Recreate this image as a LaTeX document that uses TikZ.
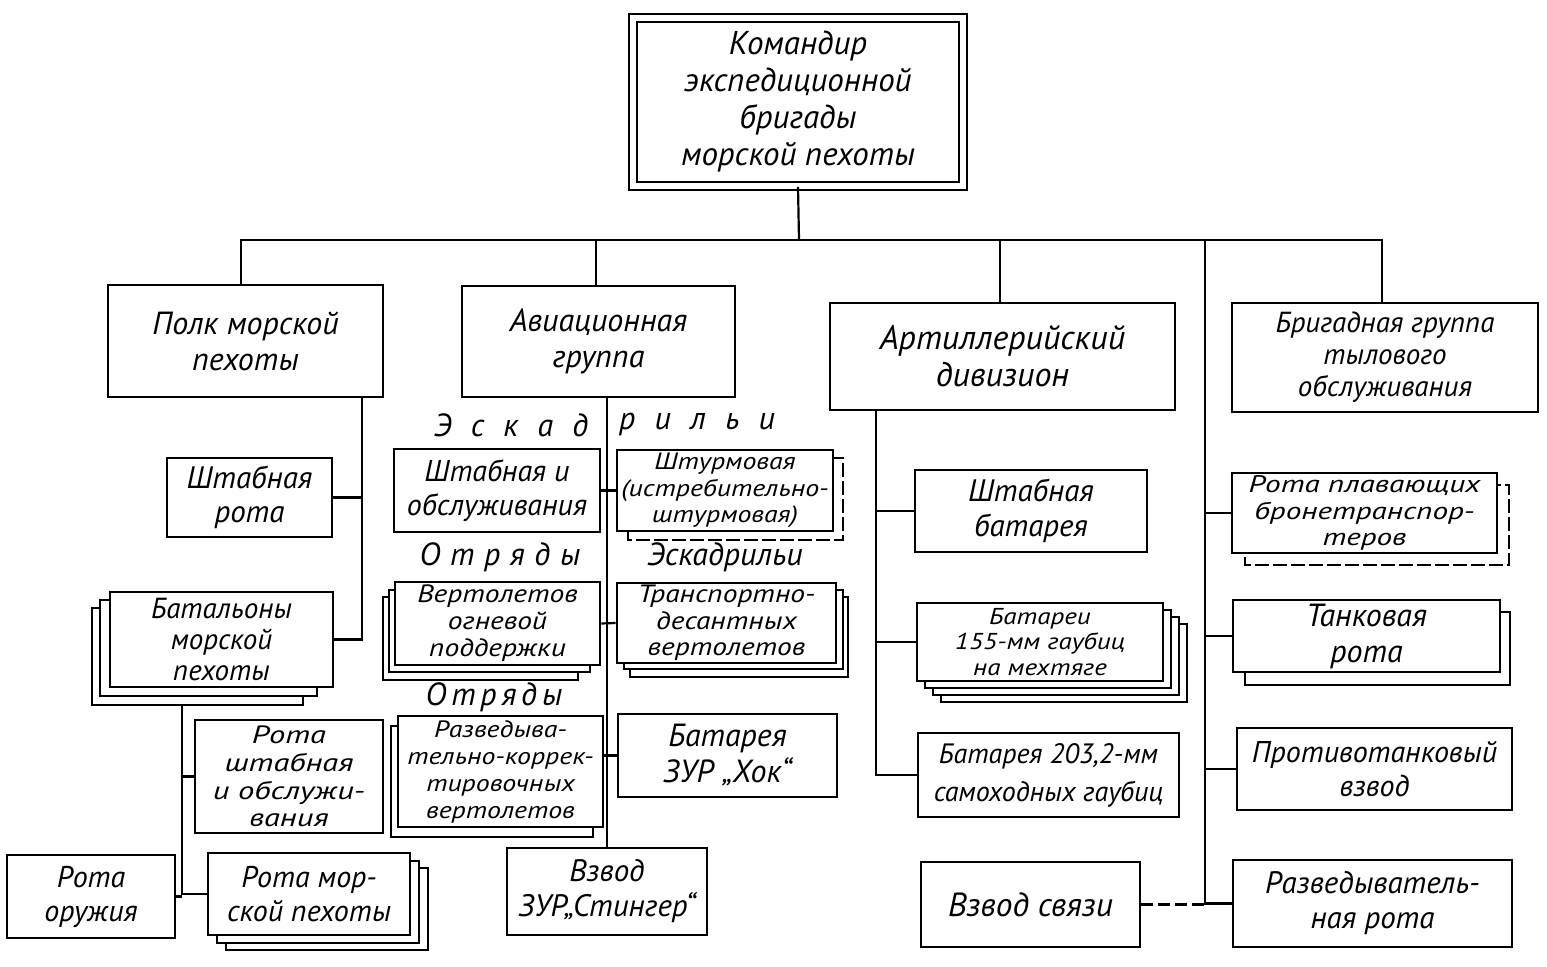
\documentclass[tikz,border=0pt]{standalone}
\usepackage{fontspec}
\setmainfont{PT Sans}
\newfontfamily\wfont{PT Sans}[FakeStretch=1.18]
\newfontfamily\wwfont{PT Sans}[FakeStretch=1.3]
\usetikzlibrary{fit}
\tikzset{
  bx/.style={draw, line width=1.3pt, fill=white, inner sep=0pt},
  txt/.style={align=center, inner sep=0pt},
  sh/.style={draw, line width=1.2pt, fill=white},
  shd/.style={sh, dash pattern=on 7pt off 2pt},
  ln/.style={line width=1.1pt},
  lbl/.style={font=\itshape\fontsize{16}{16}\selectfont, inner sep=0pt},
}
% \B{name}{fit points}{font size}{leading}{text}
\newcommand\B[5]{%
  \node[bx, fit={#2}] (#1) {};
  \node[txt, font=\itshape\fontsize{#3}{#4}\selectfont] (#1-t) at (#1.center) {#5};}
% \Bw[family]{name}{fit points}{font size}{leading}{text} : widened lettering
\newcommand\Bw[6][\wfont]{%
  \node[bx, fit={#3}] (#2) {};
  \node[txt, font=#1\itshape\fontsize{#4}{#5}\selectfont] (#2-t) at (#2.center) {#6};}
\begin{document}
\begin{tikzpicture}[x=0.5pt, y=-0.5pt]
\fill[white] (0,0) rectangle (1547,967);
\useasboundingbox (0,0) rectangle (1547,967);

% ---------- top ----------
\node[bx, fit={(633,18)(963,186)}, double, double distance=3pt, line width=0.9pt] (T) {};
\node[txt, font=\itshape\fontsize{16.5}{18.5}\selectfont] (T-t) at (T.center)
  {Командир\\экспедиционной\\бригады\\морской пехоты};

% ---------- level 2 ----------
\B{Polk}{(108,285)(383,397)}{16}{18}{Полк морской\\пехоты}
\B{Avia}{(462,286)(735,397)}{16}{18}{Авиационная\\группа}
\B{Art}{(830,303)(1175,410)}{17}{18.5}{Артиллерийский\\дивизион}
\B{Tyl}{(1232,303)(1538,412)}{14.5}{16}{Бригадная группа\\тылового\\обслуживания}

% ---------- regiment ----------
\B{ShR}{(167,458)(332,537)}{15.5}{17}{Штабная\\рота}
\draw[sh] (92,608) rectangle (303,705);
\draw[sh] (100,600) rectangle (317,696);
\B{Bat}{(110,592)(333,687)}{14.5}{15.5}{Батальоны\\морской\\пехоты}
\Bw[\wwfont]{RSh}{(195,720)(383,833)}{12.5}{13.8}{Рота\\штабная\\и обслужи-\\вания}
\B{RO}{(7,855)(175,938)}{15}{17}{Рота\\оружия}
\draw[sh] (226,868) rectangle (428,950);
\draw[sh] (217,861) rectangle (419,943);
\B{RMP}{(208,853)(410,935)}{15}{17}{Рота мор-\\ской пехоты}

% ---------- aviation ----------
\node[lbl] (lE1) at (511,425) {Э\hspace{0.6em}с\hspace{0.6em}к\hspace{0.6em}а\hspace{0.6em}д};
\node[lbl] (lE2) at (697,425) {р\hspace{0.6em}и\hspace{0.6em}л\hspace{0.6em}ь\hspace{0.6em}и};
\B{ShO}{(394,449)(600,532)}{15}{17}{Штабная и\\обслуживания}
\draw[shd] (628,458) rectangle (843,540);
\Bw{Shturm}{(617,450)(833,531)}{11.8}{13.3}{Штурмовая\\(истребительно-\\штурмовая)}
\node[lbl] (lO1) at (500,557) {О\hspace{0.3em}т\hspace{0.3em}р\hspace{0.3em}я\hspace{0.3em}д\hspace{0.3em}ы};
\node[lbl] (lE3) at (725,557) {Эскадрильи};
\draw[sh] (383,597) rectangle (578,680);
\draw[sh] (389,590) rectangle (590,672);
\Bw{Vert}{(395,582)(600,665)}{12.5}{13.5}{Вертолетов\\огневой\\поддержки}
\draw[sh] (630,597) rectangle (848,677);
\draw[sh] (624,590) rectangle (843,669);
\Bw{Transp}{(617,583)(836,663)}{12.5}{13.3}{Транспортно-\\десантных\\вертолетов}
\node[lbl] (lO2) at (494,697) {О\hspace{0.15em}т\hspace{0.15em}р\hspace{0.15em}я\hspace{0.15em}д\hspace{0.15em}ы};
\draw[sh] (391,726) rectangle (593,837);
\Bw{Razvk}{(398,716)(603,827)}{11.8}{13.5}{Разведыва-\\тельно-коррек-\\тировочных\\вертолетов}
\B{Hok}{(618,714)(837,797)}{16}{18}{Батарея\\ЗУР „Хок“}
\B{Sting}{(507,848)(707,935)}{15.5}{17.5}{Взвод\\ЗУР„Стингер“}

% ---------- artillery ----------
\B{ShB}{(915,470)(1147,552)}{15.5}{17.5}{Штабная\\батарея}
\draw[sh] (941,624) rectangle (1187,702);
\draw[sh] (933,617) rectangle (1179,695);
\draw[sh] (925,610) rectangle (1171,688);
\Bw{B155}{(917,603)(1163,681)}{11.5}{12.8}{Батареи\\155-мм гаубиц\\на мехтяге}
\B{B203}{(918,733)(1179,817)}{14}{19}{Батарея 203,2-мм\\самоходных гаубиц}
\B{Svyaz}{(921,862)(1140,947)}{16.7}{18}{Взвод связи}

% ---------- rear ----------
\draw[shd] (1245,485) rectangle (1509,565);
\Bw[\wwfont]{Plav}{(1232,473)(1497,553)}{12}{13.2}{Рота плавающих\\бронетранспор-\\теров}
\draw[sh] (1245,612) rectangle (1510,685);
\B{Tank}{(1233,600)(1500,672)}{16}{18}{Танковая\\рота}
\B{Protiv}{(1237,728)(1512,810)}{15}{17}{Противотанковый\\взвод}
\B{Razv}{(1233,860)(1512,947)}{15.5}{17.5}{Разведыватель-\\ная рота}

% ---------- connectors ----------
\coordinate (bus) at (799,240);
\coordinate (rv) at (1205,240);
\coordinate (pv) at (362,397);
\coordinate (bv) at (182,705);
\coordinate (av) at (876,410);

\draw[ln] (T.south) -- (bus);
\draw[ln] (Polk.north -| 241,0) |- (bus) -| (Tyl.north -| 1382,0);
\draw[ln] (Avia.north -| 596,0) -- (596,240);
\draw[ln] (Art.north -| 1000,0) -- (1000,240);

% regiment
\draw[ln] (pv) |- (Bat.east);
\draw[ln] (ShR.east) -- (ShR.east -| pv);
\draw[ln] (bv) |- (RMP.west);
\draw[ln] (RSh.west) -- (RSh.west -| bv);
\draw[ln] (RO.east) -- (RO.east -| bv);

% aviation
\draw[ln] (Avia.south -| Sting.north) -- (Sting.north);
\draw[ln] (ShO.east) -- (Shturm.west);
\draw[ln] (Vert.east) -- (Transp.west);
\draw[ln] (Hok.west -| Razvk.east) -- (Hok.west);

% artillery
\draw[ln] (av) |- (B203.west);
\draw[ln] (ShB.west) -- (ShB.west -| av);
\draw[ln] (B155.west) -- (B155.west -| av);

% rear
\draw[ln] (rv) |- (Razv.west);
\draw[ln] (Plav.west) -- (Plav.west -| rv);
\draw[ln] (Tank.west) -- (Tank.west -| rv);
\draw[ln] (Protiv.west) -- (Protiv.west -| rv);
\draw[ln, dash pattern=on 6pt off 2.5pt] (Svyaz.east) -- (Svyaz.east -| rv);
\end{tikzpicture}
\end{document}
